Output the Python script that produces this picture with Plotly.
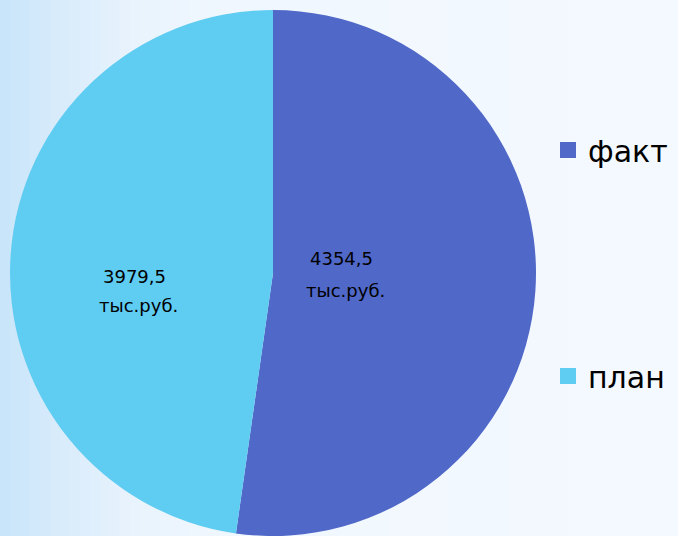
import plotly.graph_objects as go

labels = ["факт", "план"]
values = [4354.5, 3979.5]
unit = "тыс.руб."
colors = ["#5068C8", "#5FCCF2"]

W, H = 678, 536

fig = go.Figure()
fig.add_trace(go.Pie(
    labels=labels, values=values, sort=False, direction="clockwise", rotation=0,
    marker=dict(colors=colors, line=dict(width=0)),
    textinfo="none",
    domain=dict(x=[10 / W, 536 / W], y=[0, 526 / H]),
    showlegend=False, hoverinfo="label+value",
))

# legend entries via dummy traces in two legends
for i, (lab, col) in enumerate(zip(labels, colors)):
    fig.add_trace(go.Scatter(
        x=[None], y=[None], mode="markers", name=lab,
        marker=dict(symbol="square", size=20, color=col),
        legend="legend" if i == 0 else "legend2", showlegend=True,
    ))

# background gradient
stops = [(0, (200, 228, 250)), (60, (216, 236, 251)), (130, (232, 243, 253)), (220, (240, 247, 254)), (678, (244, 249, 255))]
shapes = []
n = 68
for k in range(n):
    x0 = k * W / n
    x1 = (k + 1) * W / n
    xm = (x0 + x1) / 2
    for j in range(len(stops) - 1):
        if stops[j][0] <= xm <= stops[j + 1][0]:
            t = (xm - stops[j][0]) / (stops[j + 1][0] - stops[j][0])
            c = tuple(round(stops[j][1][m] + t * (stops[j + 1][1][m] - stops[j][1][m])) for m in range(3))
            break
    shapes.append(dict(type="rect", xref="paper", yref="paper", x0=x0 / W, x1=x1 / W + 0.002,
                       y0=0, y1=1, fillcolor="rgb(%d,%d,%d)" % c, line=dict(width=0), layer="below"))

# slice labels (value line and unit line)
label_pos = [((341, 258), (345, 290)), ((134, 276), (138, 305))]
lblfont = dict(family="DejaVu Sans", size=18, color="black")
annotations = []
for v, (p1, p2) in zip(values, label_pos):
    txt = f"{v:.1f}".replace(".", ",")
    annotations.append(dict(text=txt, x=p1[0] / W, y=1 - p1[1] / H, xref="paper", yref="paper",
                            showarrow=False, font=lblfont, xanchor="center", yanchor="middle"))
    annotations.append(dict(text=unit, x=p2[0] / W, y=1 - p2[1] / H, xref="paper", yref="paper",
                            showarrow=False, font=lblfont, xanchor="center", yanchor="middle"))

legfont = dict(family="DejaVu Sans", size=30, color="black")
fig.update_layout(
    width=W, height=H, margin=dict(l=0, r=0, t=0, b=0),
    paper_bgcolor="rgba(0,0,0,0)", plot_bgcolor="rgba(0,0,0,0)",
    shapes=shapes, annotations=annotations,
    xaxis=dict(visible=False), yaxis=dict(visible=False),
    legend=dict(x=548 / W, y=1 - 150 / H, xanchor="left", yanchor="middle", font=legfont,
                bgcolor="rgba(0,0,0,0)", itemwidth=30),
    legend2=dict(x=548 / W, y=1 - 376 / H, xanchor="left", yanchor="middle", font=legfont,
                 bgcolor="rgba(0,0,0,0)", itemwidth=30),
)
fig.write_html("out.html", config={"displayModeBar": False},
               post_script="document.body.style.margin='0';document.body.style.overflow='hidden';")
